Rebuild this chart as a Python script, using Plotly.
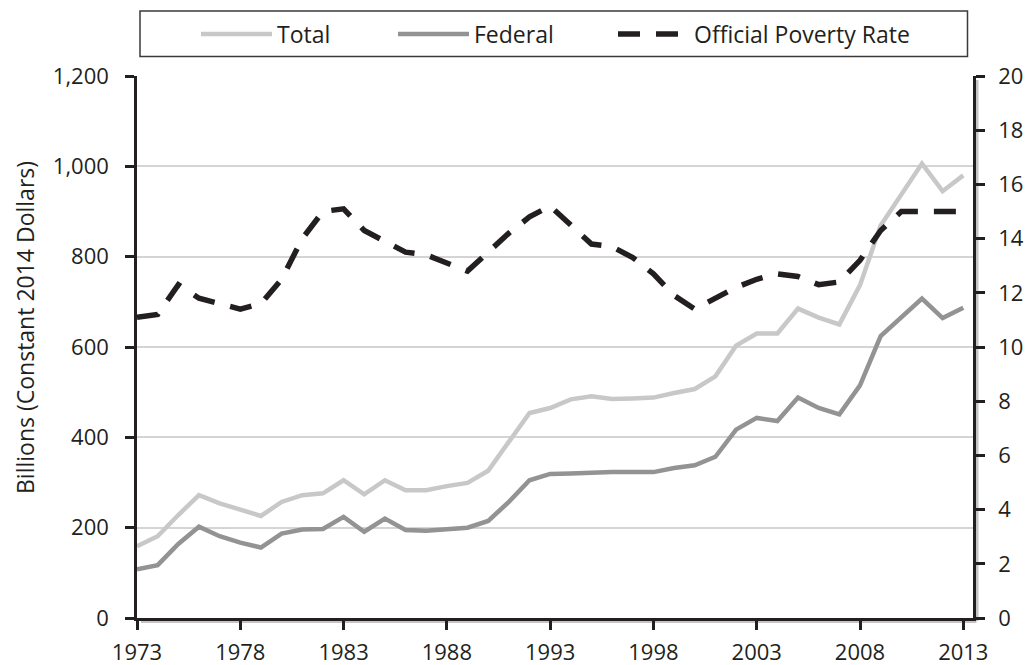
import plotly.graph_objects as go

years = list(range(1973, 2014))
total = [159, 181, 228, 272, 254, 240, 226, 257, 272, 276, 305, 274, 305, 283, 283, 292, 299,
         326, 390, 454, 465, 484, 491, 485, 486, 488, 498, 507, 535, 603, 630, 630, 685, 665,
         650, 737, 869, 936, 1006, 945, 980]
federal = [108, 117, 164, 202, 181, 167, 156, 187, 196, 197, 224, 191, 220, 195, 193, 196, 200,
           215, 257, 305, 319, 320, 322, 323, 323, 323, 332, 338, 357, 417, 443, 436, 488, 465,
           451, 515, 624, 667, 707, 664, 687]
poverty = [11.1, 11.2, 12.3, 11.8, 11.6, 11.4, 11.6, 12.5, 14.0, 15.0, 15.1, 14.3, 13.9, 13.5,
           13.4, 13.1, 12.8, 13.5, 14.2, 14.8, 15.2, 14.5, 13.8, 13.7, 13.3, 12.7, 11.9, 11.4,
           11.8, 12.2, 12.5, 12.7, 12.6, 12.3, 12.4, 13.2, 14.3, 15.0, 15.0, 15.0, 15.0]

FONT = "Open Sans"
INK = "#231f20"

# The page body has an 8px margin, so the figure is drawn 8px in from the window edge.
OFF = 8
W, H = 1034 - OFF, 665 - OFF
# plot-area edges in window pixels: left 137, right 973, top 76, bottom 618
L = 137 - OFF
R = W - (973 - OFF)
T = 76 - OFF
B = H - (618 - OFF)
PW, PH = W - L - R, H - T - B


def px_x(px):
    """window pixel x -> paper coordinate"""
    return (px - OFF - L) / PW


def px_y(py):
    """window pixel y -> paper coordinate"""
    return (H - B - (py - OFF)) / PH


fig = go.Figure()
fig.add_trace(go.Scatter(x=years, y=total, name="Total", mode="lines", legend="legend",
                         line=dict(color="#c8c8c8", width=4.5)))
fig.add_trace(go.Scatter(x=years, y=federal, name="Federal", mode="lines", legend="legend2",
                         line=dict(color="#939393", width=4.5)))
fig.add_trace(go.Scatter(x=years, y=poverty, name="Official Poverty Rate", mode="lines",
                         legend="legend3", yaxis="y2",
                         line=dict(color=INK, width=5.5, dash="22px,16px")))

axis_common = dict(showline=True, linecolor=INK, linewidth=2.5, ticks="outside",
                   ticklen=9, tickwidth=2.5, tickcolor=INK, zeroline=False,
                   tickfont=dict(size=22, family=FONT, color=INK))


def legend_at(px):
    return dict(orientation="h", x=px_x(px), xanchor="left", y=px_y(34), yanchor="middle",
                font=dict(size=23, family=FONT, color=INK), itemwidth=71,
                bgcolor="rgba(0,0,0,0)")


fig.update_layout(
    width=W, height=H,
    margin=dict(l=L, r=R, t=T, b=B, autoexpand=False),
    paper_bgcolor="white", plot_bgcolor="white",
    font=dict(family=FONT, size=22, color=INK),
    showlegend=True,
    legend=legend_at(196),
    legend2=legend_at(393),
    legend3=legend_at(613),
    xaxis=dict(range=[1973, 2013.47], tickmode="linear", tick0=1973, dtick=5,
               showgrid=False, ticklabelstandoff=4, **axis_common),
    yaxis=dict(range=[0, 1200], tickmode="linear", tick0=0, dtick=200,
               tickformat=",d", showgrid=True, gridcolor="#d4d4d4", gridwidth=1.5,
               ticklabelstandoff=12, **axis_common),
    yaxis2=dict(range=[0, 20], tickmode="linear", tick0=0, dtick=2, overlaying="y",
                side="right", showgrid=False, ticklabelstandoff=9, **axis_common),
    annotations=[dict(text="Billions (Constant 2014 Dollars)", xref="paper", yref="paper",
                      x=px_x(25), y=px_y(328), textangle=-90, showarrow=False,
                      font=dict(size=23, family=FONT, color=INK),
                      xanchor="center", yanchor="middle")],
    shapes=[
        dict(type="rect", xref="paper", yref="paper", x0=px_x(140), x1=px_x(967.5),
             y0=px_y(56.5), y1=px_y(11), line=dict(color="#3a3a3a", width=1.5), layer="above"),
        # soft drop shadow along right and bottom axes
        dict(type="line", xref="paper", yref="paper", x0=px_x(976.5), x1=px_x(976.5),
             y0=px_y(621), y1=px_y(80), line=dict(color="#c4c4c4", width=4), layer="below"),
        dict(type="line", xref="paper", yref="paper", x0=px_x(141), x1=px_x(976.5),
             y0=px_y(621), y1=px_y(621), line=dict(color="#c4c4c4", width=4), layer="below"),
    ],
)
fig.write_html("out.html")
